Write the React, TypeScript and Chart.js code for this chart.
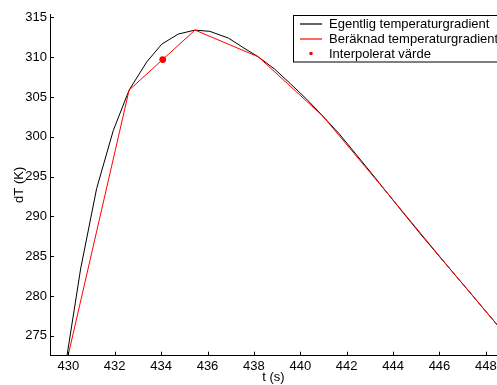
import React, { useEffect, useRef } from "react";
import { Chart, registerables } from "chart.js";

Chart.register(...registerables);

// Time samples (s) and the actual temperature gradient (K)
const timeS = [
  429.84, 430.53, 431.22, 431.94, 432.62, 433.38, 434.03, 434.74, 435.46,
  436.1, 436.9, 437.54, 438.19, 438.89, 439.58, 440.28, 440.97, 441.67,
  442.36, 443.06, 443.76, 444.45, 445.15, 445.84, 446.54, 447.24, 447.93,
  448.63, 449.32,
];
const actualGradient = [
  270.6, 283.4, 293.5, 300.8, 305.86, 309.4, 311.64, 312.9, 313.4, 313.24,
  312.4, 311.2, 310.04, 308.5, 306.65, 304.7, 302.6, 300.4, 297.95, 295.45,
  292.9, 290.4, 287.9, 285.5, 283.1, 280.7, 278.3, 275.9, 273.5,
];
// Computed (sub-sampled) gradient
const calcTime = [429.84, 432.62, 435.46, 438.19, 440.97, 443.76, 446.54, 449.32];
const calcGradient = [270.6, 305.86, 313.4, 310.04, 302.6, 292.9, 283.1, 273.5];
// Interpolated value
const interpTime = [434.07];
const interpValue = [309.7];

const xTicks = [430, 432, 434, 436, 438, 440, 442, 444, 446, 448];
const yTicks = [275, 280, 285, 290, 295, 300, 305, 310, 315];

const labels = [
  "Egentlig temperaturgradient",
  "Beräknad temperaturgradient",
  "Interpolerat värde",
];
const colors = ["#000000", "#ff0000", "#ff0000"];
const legendKinds = ["line", "line", "dot"];

const FONT = "'Liberation Sans', Arial, Helvetica, sans-serif";

const inwardTicks = {
  id: "inwardTicks",
  afterDatasetsDraw(chart: any) {
    const { ctx, chartArea, scales } = chart;
    ctx.save();
    ctx.strokeStyle = "#000";
    ctx.lineWidth = 1;
    ctx.beginPath();
    for (const v of xTicks) {
      const px = Math.round(scales.x.getPixelForValue(v)) + 0.5;
      ctx.moveTo(px, chartArea.bottom);
      ctx.lineTo(px, chartArea.bottom - 4);
    }
    for (const v of yTicks) {
      const py = Math.round(scales.y.getPixelForValue(v)) + 0.5;
      ctx.moveTo(chartArea.left, py);
      ctx.lineTo(chartArea.left + 4, py);
    }
    ctx.stroke();
    ctx.restore();
  },
};

const boxLegend = {
  id: "boxLegend",
  afterDraw(chart: any) {
    const { ctx } = chart;
    const left = 293.5;
    const top = 15.5;
    const w = 215;
    const h = 46.5;
    ctx.save();
    ctx.fillStyle = "#fff";
    ctx.fillRect(left, top, w, h);
    ctx.strokeStyle = "#000";
    ctx.lineWidth = 1;
    ctx.strokeRect(left, top, w, h);
    const rows = [24.3, 39.0, 53.5];
    ctx.font = `13px ${FONT}`;
    ctx.textBaseline = "middle";
    ctx.textAlign = "left";
    labels.forEach((label, i) => {
      const y = rows[i];
      if (legendKinds[i] === "dot") {
        ctx.fillStyle = colors[i];
        ctx.beginPath();
        ctx.arc(311, y, 1.8, 0, Math.PI * 2);
        ctx.fill();
      } else {
        ctx.strokeStyle = colors[i];
        ctx.lineWidth = 1.2;
        ctx.beginPath();
        ctx.moveTo(300, Math.round(y));
        ctx.lineTo(322, Math.round(y));
        ctx.stroke();
      }
      ctx.fillStyle = "#000";
      ctx.fillText(label, 329, y + 0.5);
    });
    ctx.restore();
  },
};

export default function App() {
  const ref = useRef<HTMLCanvasElement>(null);

  useEffect(() => {
    if (!ref.current) return;
    const chart = new Chart(ref.current, {
      type: "line",
      data: {
        datasets: [
          {
            label: labels[0],
            data: timeS.map((t, i) => ({ x: t, y: actualGradient[i] })),
            borderColor: colors[0],
            backgroundColor: colors[0],
            borderWidth: 1,
            pointRadius: 0,
            tension: 0,
            order: 3,
          },
          {
            label: labels[1],
            data: calcTime.map((t, i) => ({ x: t, y: calcGradient[i] })),
            borderColor: colors[1],
            backgroundColor: colors[1],
            borderWidth: 1,
            pointRadius: 0,
            tension: 0,
            order: 2,
          },
          {
            label: labels[2],
            data: interpTime.map((t, i) => ({ x: t, y: interpValue[i] })),
            borderColor: colors[2],
            backgroundColor: colors[2],
            showLine: false,
            pointRadius: 3.4,
            pointBorderWidth: 0,
            order: 1,
          },
        ],
      },
      options: {
        responsive: false,
        animation: false,
        devicePixelRatio: 1,
        layout: { padding: { top: 14, right: 23, left: 0, bottom: 0 } },
        plugins: { legend: { display: false }, tooltip: { enabled: false } },
        scales: {
          x: {
            type: "linear",
            min: 429.21,
            max: 448.48,
            grid: { display: false, drawTicks: false },
            border: { display: true, color: "#000", width: 1 },
            afterBuildTicks: (s: any) => {
              s.ticks = xTicks.map((v) => ({ value: v }));
            },
            afterFit: (s: any) => {
              s.height = 29.3;
            },
            ticks: {
              color: "#000",
              padding: 3,
              maxRotation: 0,
              autoSkip: false,
              font: { family: FONT, size: 13 },
              callback: (v: any) => String(v),
            },
            title: {
              display: true,
              text: "t (s)",
              color: "#000",
              font: { family: FONT, size: 13 },
              padding: { top: 0, bottom: 0 },
            },
          },
          y: {
            type: "linear",
            min: 272.5,
            max: 315.42,
            grid: { display: false, drawTicks: false },
            border: { display: true, color: "#000", width: 1 },
            afterBuildTicks: (s: any) => {
              s.ticks = yTicks.map((v) => ({ value: v }));
            },
            afterFit: (s: any) => {
              s.width = 50;
            },
            ticks: {
              color: "#000",
              padding: 3,
              autoSkip: false,
              font: { family: FONT, size: 13 },
              callback: (v: any) => String(v),
            },
            title: {
              display: true,
              text: "dT (K)",
              color: "#000",
              font: { family: FONT, size: 13 },
              padding: { top: 12, bottom: 0 },
            },
          },
        },
      },
      plugins: [inwardTicks, boxLegend],
    });
    return () => chart.destroy();
  }, []);

  return (
    <div
      style={{
        position: "fixed",
        left: 0,
        top: 0,
        width: 497,
        height: 385,
        overflow: "hidden",
        background: "#fff",
      }}
    >
      <canvas
        ref={ref}
        width={520}
        height={385}
        style={{ position: "absolute", left: 0, top: 0, width: 520, height: 385 }}
      />
    </div>
  );
}
